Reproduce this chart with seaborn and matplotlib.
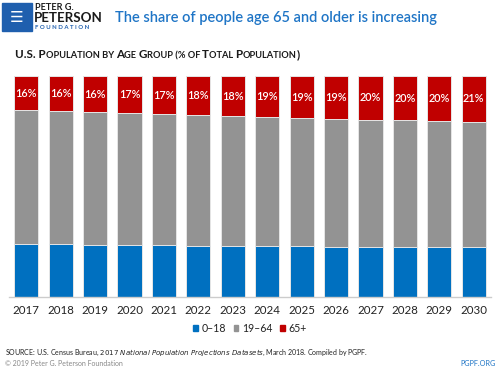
import matplotlib
matplotlib.use("Agg")
import matplotlib.pyplot as plt
from matplotlib.patches import Rectangle
import seaborn as sns
import pandas as pd

years = [2017, 2018, 2019, 2020, 2021, 2022, 2023, 2024, 2025, 2026, 2027, 2028, 2029, 2030]
age_0_18 = [23.9, 23.8, 23.6, 23.5, 23.4, 23.3, 23.2, 23.0, 22.9, 22.8, 22.7, 22.6, 22.5, 22.4]
age_65_plus = [15.6, 16.0, 16.4, 16.9, 17.3, 17.8, 18.2, 18.7, 19.1, 19.4, 19.8, 20.1, 20.4, 20.8]
age_19_64 = [100 - a - c for a, c in zip(age_0_18, age_65_plus)]
legend_labels = ["0\u201318", "19\u201364", "65+"]

BLUE = "#0070C0"
GRAY = "#939393"
RED = "#C00000"

df = pd.DataFrame({
    "year": [str(y) for y in years],
    "blue_top": age_0_18,
    "gray_top": [a + b for a, b in zip(age_0_18, age_19_64)],
    "red_top": [a + b + c for a, b, c in zip(age_0_18, age_19_64, age_65_plus)],
})

sns.set_theme(style="white")
plt.rcParams["font.family"] = ["Lato", "DejaVu Sans"]

fig = plt.figure(figsize=(5, 3.71), dpi=100)
W, H = 500, 371
ax = fig.add_axes([9 / W, 1 - 297 / H, 482 / W, (297 - 76) / H])

edge = dict(edgecolor="#e6e6e6", linewidth=0.7)
sns.barplot(data=df, x="year", y="red_top", color=RED, width=0.705, ax=ax, saturation=1, **edge)
sns.barplot(data=df, x="year", y="gray_top", color=GRAY, width=0.705, ax=ax, saturation=1, **edge)
sns.barplot(data=df, x="year", y="blue_top", color=BLUE, width=0.705, ax=ax, saturation=1, **edge)

ax.set_ylim(0, 100)
ax.set_xlim(-0.5, len(years) - 0.5)
ax.set_xlabel("")
ax.set_ylabel("")
ax.set_yticks([])
for s in ["top", "left", "right"]:
    ax.spines[s].set_visible(False)
ax.spines["bottom"].set_color("#cccccc")
ax.spines["bottom"].set_linewidth(1.0)
ax.tick_params(axis="x", length=0, pad=6, labelsize=8.3, labelcolor="#222222")

for i, (top, v) in enumerate(zip(df["red_top"], age_65_plus)):
    ax.text(i, top - v / 2, f"{int(v + 0.5):d}%", ha="center", va="center",
            color="white", fontsize=7.8, fontweight="semibold")

# legend
handles = [Rectangle((0, 0), 1, 1, color=c) for c in (BLUE, GRAY, RED)]
fig.legend(handles, legend_labels, loc="center", bbox_to_anchor=(0.5, 1 - 328 / H),
           ncol=3, frameon=False, fontsize=7.6, handlelength=0.45, handleheight=0.45,
           handletextpad=0.35, columnspacing=0.7, labelcolor="#222222")

# header: logo
fig.patches.append(Rectangle((2 / W, 1 - 31 / H), 30 / W, 28 / H, transform=fig.transFigure,
                             color="#1F5FAE", zorder=2))
fig.text(17 / W, 1 - 17 / H, "\u2630", color="white", fontsize=11, ha="center", va="center",
         family="DejaVu Sans")
fig.text(35 / W, 1 - 8 / H, "PETER G.", fontsize=6.6, fontweight="bold", color="#1a1a1a",
         va="center", ha="left")
fig.text(34 / W, 1 - 17.5 / H, "PETERSON", fontsize=9.6, fontweight="bold", color="#1a1a1a",
         va="center", ha="left")
fig.text(35 / W, 1 - 27.5 / H, "F O U N D A T I O N", fontsize=4.3, fontweight="bold",
         color="#1F5FAE", va="center", ha="left")
fig.text(115 / W, 1 - 18 / H, "The share of people age 65 and older is increasing",
         fontsize=10.5, color="#1F75C6", fontweight="semibold", va="center", ha="left")

# subtitle in small caps
pieces = [("U.S. P", 8.4), ("OPULATION BY ", 6.7), ("A", 8.4), ("GE ", 6.7), ("G", 8.4),
          ("ROUP (% OF ", 6.7), ("T", 8.4), ("OTAL ", 6.7), ("P", 8.4), ("OPULATION", 6.7), (")", 8.4)]
fig.canvas.draw()
renderer = fig.canvas.get_renderer()
x = 15
for txt, size in pieces:
    t = fig.text(x / W, 1 - 58 / H, txt, fontsize=size, fontweight="bold", color="#1a1a1a",
                 va="baseline", ha="left")
    bb = t.get_window_extent(renderer=renderer)
    x += bb.width

# footer
fig.text(5 / W, 1 - 353 / H,
         "SOURCE: U.S. Census Bureau, $\\it{2017\\ National\\ Population\\ Projections\\ Datasets}$, March 2018. Compiled by PGPF.",
         fontsize=5.0, color="#222222", va="center", ha="left")
fig.text(5 / W, 1 - 364 / H, "\u00a9 2019 Peter G. Peterson Foundation", fontsize=5.0,
         color="#888888", va="center", ha="left")
fig.text(496 / W, 1 - 364 / H, "PGPF.ORG", fontsize=5.2, color="#1F75C6", va="center", ha="right")

fig.savefig("out.png", dpi=100)
